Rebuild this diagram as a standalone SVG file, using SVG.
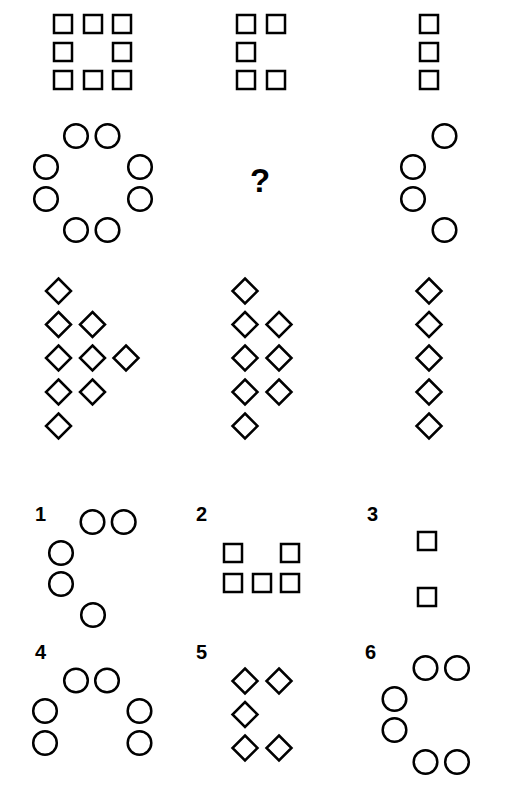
<svg xmlns="http://www.w3.org/2000/svg" width="511" height="789" viewBox="0 0 511 789">
<defs>
<style>
.s{fill:none;stroke:#000;stroke-width:2.5}
.lbl{font-family:"Liberation Sans",Arial,sans-serif;font-weight:bold;font-size:20px;fill:#000}
.q{font-family:"Liberation Sans",Arial,sans-serif;font-weight:bold;font-size:33px;fill:#000}
</style>
<rect id="sq" x="-9" y="-9" width="18" height="18" class="s"/>
<circle id="ci" r="11.8" class="s"/>
<path id="di" d="M0,-12.5 L12.5,0 L0,12.5 L-12.5,0 Z" class="s"/>
</defs>
<rect width="511" height="789" fill="#fff"/>
<g id="cell-1-1">
<use href="#sq" x="63" y="24"/><use href="#sq" x="93" y="24"/><use href="#sq" x="122" y="24"/>
<use href="#sq" x="63" y="52"/><use href="#sq" x="122" y="52"/>
<use href="#sq" x="63" y="80"/><use href="#sq" x="93" y="80"/><use href="#sq" x="122" y="80"/>
</g>
<g id="cell-1-2">
<use href="#sq" x="246" y="24"/><use href="#sq" x="276" y="24"/>
<use href="#sq" x="246" y="52"/>
<use href="#sq" x="246" y="80"/><use href="#sq" x="276" y="80"/>
</g>
<g id="cell-1-3">
<use href="#sq" x="429" y="24"/><use href="#sq" x="429" y="52"/><use href="#sq" x="429" y="80"/>
</g>
<g id="cell-2-1">
<use href="#ci" x="76" y="136"/><use href="#ci" x="107.5" y="136"/>
<use href="#ci" x="46" y="167"/><use href="#ci" x="140" y="167"/>
<use href="#ci" x="46" y="199"/><use href="#ci" x="140" y="199"/>
<use href="#ci" x="76" y="230"/><use href="#ci" x="107.5" y="230"/>
</g>
<g id="cell-2-2">
<text class="q" x="260" y="192" text-anchor="middle">?</text>
</g>
<g id="cell-2-3">
<use href="#ci" x="444.5" y="136"/>
<use href="#ci" x="413" y="167"/><use href="#ci" x="413" y="199"/>
<use href="#ci" x="444.5" y="230"/>
</g>
<g id="cell-3-1">
<use href="#di" x="58.5" y="291"/>
<use href="#di" x="58.5" y="324.5"/><use href="#di" x="92.5" y="324.5"/>
<use href="#di" x="58.5" y="358"/><use href="#di" x="92.5" y="358"/><use href="#di" x="126" y="358"/>
<use href="#di" x="58.5" y="392"/><use href="#di" x="92.5" y="392"/>
<use href="#di" x="58.5" y="426"/>
</g>
<g id="cell-3-2">
<use href="#di" x="245" y="291"/>
<use href="#di" x="245" y="324.5"/><use href="#di" x="279" y="324.5"/>
<use href="#di" x="245" y="358"/><use href="#di" x="279" y="358"/>
<use href="#di" x="245" y="392"/><use href="#di" x="279" y="392"/>
<use href="#di" x="245" y="426"/>
</g>
<g id="cell-3-3">
<use href="#di" x="429" y="291"/><use href="#di" x="429" y="324.5"/><use href="#di" x="429" y="358"/><use href="#di" x="429" y="392"/><use href="#di" x="429" y="426"/>
</g>
<g id="option-1">
<text class="lbl" x="35" y="521">1</text>
<use href="#ci" x="92.5" y="522"/><use href="#ci" x="123.7" y="522"/>
<use href="#ci" x="61" y="553"/><use href="#ci" x="61" y="584"/>
<use href="#ci" x="93" y="615"/>
</g>
<g id="option-2">
<text class="lbl" x="196" y="521">2</text>
<use href="#sq" x="233" y="553"/><use href="#sq" x="290" y="553"/>
<use href="#sq" x="233" y="583"/><use href="#sq" x="262" y="583"/><use href="#sq" x="290" y="583"/>
</g>
<g id="option-3">
<text class="lbl" x="367" y="521">3</text>
<use href="#sq" x="427" y="541"/><use href="#sq" x="427" y="597"/>
</g>
<g id="option-4">
<text class="lbl" x="35" y="659">4</text>
<use href="#ci" x="76" y="680.5"/><use href="#ci" x="107" y="680.5"/>
<use href="#ci" x="45" y="711"/><use href="#ci" x="139.5" y="711"/>
<use href="#ci" x="45" y="743"/><use href="#ci" x="139.5" y="743"/>
</g>
<g id="option-5">
<text class="lbl" x="196" y="659">5</text>
<use href="#di" x="245" y="681"/><use href="#di" x="279" y="681"/>
<use href="#di" x="245" y="714.5"/>
<use href="#di" x="245" y="748"/><use href="#di" x="279" y="748"/>
</g>
<g id="option-6">
<text class="lbl" x="365" y="659">6</text>
<use href="#ci" x="425.5" y="668"/><use href="#ci" x="457" y="668"/>
<use href="#ci" x="394.5" y="699"/><use href="#ci" x="394.5" y="730"/>
<use href="#ci" x="425.5" y="762"/><use href="#ci" x="457" y="762"/>
</g>
</svg>
